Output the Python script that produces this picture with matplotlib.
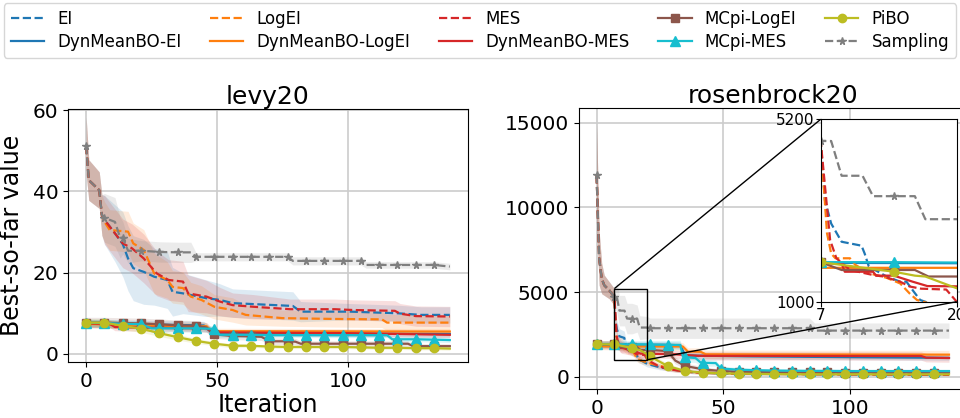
import numpy as np
import matplotlib
matplotlib.use("Agg")
import matplotlib.pyplot as plt
from matplotlib.lines import Line2D
from mpl_toolkits.axes_grid1.inset_locator import mark_inset

plt.rcParams["font.family"] = "DejaVu Sans"

# ---------------------------------------------------------------- labels
method_labels = ["EI", "DynMeanBO-EI", "LogEI", "DynMeanBO-LogEI", "MES",
                 "DynMeanBO-MES", "MCpi-LogEI", "MCpi-MES", "PiBO", "Sampling"]
panel_titles = ["levy20", "rosenbrock20"]

# ---------------------------------------------------------------- levy20
levy_ei_x = [0, 1, 5, 6, 7, 11, 14, 16, 18, 22, 26, 31, 33, 37, 46, 51, 56, 79, 82, 101, 110, 119, 128, 139]
levy_ei_y = [51.2, 42.8, 40.3, 34.2, 33.0, 29.7, 27.0, 23.5, 21.1, 20.2, 19.0, 18.2, 15.3, 14.9, 13.7, 13.3, 12.5, 11.8, 10.4, 10.4, 10.2, 10.0, 9.6, 9.6]
levy_ei_sd = [7, 5, 4.5, 5, 6, 7, 8, 8, 8, 8, 7, 7, 6, 5, 4.5, 4, 3.5, 3.5, 2.5, 2, 2, 2, 2, 2]

levy_dei_x = [0, 20, 45, 48, 100, 139]
levy_dei_y = [7.5, 7.3, 7.0, 5.2, 5.0, 4.9]
levy_dei_sd = [1.0, 1.0, 1.0, 0.8, 0.8, 0.8]

levy_logei_x = [0, 1, 5, 6, 7, 9, 16, 18, 22, 26, 31, 33, 37, 40, 44, 49, 56, 61, 75, 95, 113, 115, 139]
levy_logei_y = [51.2, 42.8, 40.3, 34.2, 32.5, 30.5, 30.1, 27.2, 25.6, 19.8, 18.2, 16.5, 16.2, 14.1, 13.3, 11.6, 10.8, 9.6, 8.8, 8.6, 8.5, 7.7, 7.7]
levy_logei_sd = [7, 5, 4.5, 5, 5, 5, 5, 5, 5, 5, 4.5, 4, 4, 3.5, 3.5, 3, 3, 2.5, 2, 2, 2, 2, 2]

levy_dlogei_x = [0, 10, 30, 46, 48, 139]
levy_dlogei_y = [7.4, 7.2, 6.9, 6.8, 5.6, 5.5]
levy_dlogei_sd = [0.9, 0.9, 0.9, 0.9, 0.7, 0.7]

levy_mes_x = [0, 1, 5, 6, 7, 10, 14, 17.5, 22, 27, 31.5, 37, 39, 46, 51, 56, 64, 78, 95, 102, 118, 120, 126, 139]
levy_mes_y = [51.2, 42.8, 40.3, 34.2, 33.0, 30.5, 27.2, 26.0, 23.5, 19.8, 18.2, 17.8, 14.9, 14.1, 12.9, 12.0, 11.6, 11.0, 11.0, 10.8, 10.6, 9.9, 9.3, 9.2]
levy_mes_sd = [7, 5, 4.5, 5, 6, 6, 6, 6, 6, 5.5, 5, 5, 4.5, 4, 3.5, 3, 3, 2.5, 2.5, 2.5, 2.5, 2.5, 2.5, 2.5]

levy_dmes_x = [0, 9, 11, 30, 46, 48, 100, 139]
levy_dmes_y = [7.5, 7.4, 6.6, 6.4, 6.3, 5.3, 5.1, 4.7]
levy_dmes_sd = [0.9, 0.9, 0.9, 0.9, 0.9, 0.7, 0.7, 0.7]

levy_mlogei_x = [0, 7, 14, 21, 28, 35, 42, 46, 49, 56, 63, 67, 70, 77, 80, 82, 84, 91, 98, 105, 112, 119, 123, 125, 126, 133, 139]
levy_mlogei_y = [7.7, 7.7, 7.6, 7.5, 7.3, 7.0, 6.9, 6.5, 4.8, 4.4, 4.3, 4.2, 3.1, 3.1, 3.0, 2.5, 2.5, 2.5, 2.5, 2.5, 2.5, 2.5, 2.5, 1.9, 1.9, 1.9, 1.9]
levy_mlogei_sd = [1.3, 1.3, 1.3, 1.3, 1.3, 1.3, 1.3, 1.2, 1.0, 0.9, 0.9, 0.9, 0.8, 0.8, 0.8, 0.7, 0.7, 0.7, 0.7, 0.7, 0.7, 0.7, 0.7, 0.6, 0.6, 0.6, 0.6]

levy_mmes_x = [0, 7, 14, 21, 25, 28, 35, 42, 47, 49, 51, 56, 63, 70, 77, 84, 91, 98, 105, 112, 115, 117, 119, 126, 133, 139]
levy_mmes_y = [7.7, 7.6, 7.4, 7.3, 6.3, 6.3, 6.3, 6.3, 6.2, 6.2, 4.7, 4.7, 4.7, 4.6, 4.6, 4.6, 4.6, 4.6, 4.6, 4.6, 4.6, 3.6, 3.6, 3.6, 3.5, 3.4]
levy_mmes_sd = [0.9, 0.9, 0.9, 0.9, 0.9, 0.9, 0.9, 0.9, 0.8, 0.8, 0.7, 0.7, 0.7, 0.6, 0.6, 0.6, 0.6, 0.6, 0.6, 0.6, 0.6, 0.6, 0.6, 0.6, 0.6, 0.6]

levy_pibo_x = [0, 7, 14, 21, 28, 35, 42, 49, 56, 63, 70, 77, 84, 91, 98, 105, 112, 119, 126, 133, 139]
levy_pibo_y = [7.7, 7.7, 6.9, 6.2, 5.1, 4.1, 3.2, 2.5, 2.0, 2.0, 1.8, 1.7, 1.7, 1.7, 1.7, 1.6, 1.5, 1.5, 1.4, 1.4, 1.3]
levy_pibo_sd = [1.0, 1.0, 1.0, 0.9, 0.8, 0.7, 0.6, 0.5, 0.5, 0.4, 0.4, 0.4, 0.4, 0.4, 0.4, 0.4, 0.4, 0.4, 0.4, 0.4, 0.4]

levy_samp_x = [0, 1, 5, 6, 7, 11, 13, 14, 16, 21, 28, 35, 40, 42, 49, 56, 63, 70, 77, 79, 84, 91, 98, 105, 107, 112, 119, 126, 133, 139]
levy_samp_y = [51.2, 42.8, 40.3, 34.2, 33.5, 32.5, 28.6, 28.6, 25.4, 25.4, 25.1, 25.0, 25.0, 23.9, 23.9, 23.9, 23.9, 23.9, 23.9, 22.9, 22.9, 22.9, 22.9, 22.9, 21.9, 21.9, 21.9, 21.9, 21.9, 21.5]
levy_samp_sd = [7, 5, 4.5, 5, 6, 6, 5, 4, 3, 2.5, 2.5, 2.5, 2.5, 1.0, 1.0, 1.0, 1.0, 1.0, 1.0, 1.0, 1.0, 1.0, 1.0, 1.0, 0.8, 0.8, 0.8, 0.8, 0.8, 0.8]

# ---------------------------------------------------------------- rosenbrock20
ros_ei_x = [0, 1, 2, 3, 5, 7, 7.4, 8, 9, 10.9, 11.2, 11.6, 13.3, 14.6, 15.2, 15.9, 16.5, 20, 25, 30, 35, 42, 56, 84, 112, 139]
ros_ei_y = [11900, 7000, 5800, 5400, 5100, 4700, 3340, 2800, 2380, 2290, 2110, 1810, 1580, 1460, 1460, 1230, 1040, 750, 550, 420, 300, 230, 180, 150, 130, 110]
ros_ei_sd = [3000, 1600, 900, 600, 500, 500, 600, 500, 450, 400, 350, 300, 250, 250, 250, 200, 200, 180, 150, 120, 100, 80, 70, 60, 50, 50]

ros_dei_x = [0, 28, 33, 35, 60, 100, 139]
ros_dei_y = [1900, 1880, 1850, 1250, 1200, 1150, 1110]
ros_dei_sd = [200, 200, 200, 200, 180, 150, 150]

ros_logei_x = [0, 1, 2, 3, 5, 7, 7.6, 8, 8.4, 9.8, 10.3, 11.7, 13.3, 14.6, 15.5, 16.2, 17.5, 22, 26, 30, 35, 42, 56, 84, 112, 139]
ros_logei_y = [11900, 7000, 5800, 5400, 5100, 4700, 2580, 2110, 2000, 2000, 1850, 1650, 1550, 1420, 1190, 1040, 950, 750, 600, 420, 300, 230, 180, 150, 130, 110]
ros_logei_sd = [3000, 1600, 900, 600, 500, 500, 500, 400, 350, 350, 300, 300, 250, 250, 200, 200, 180, 150, 130, 120, 100, 80, 70, 60, 50, 50]

ros_dlogei_x = [0, 7, 34, 36, 41, 43, 139]
ros_dlogei_y = [1800, 1780, 1780, 1480, 1470, 1320, 1300]
ros_dlogei_sd = [200, 200, 220, 220, 230, 250, 250]

ros_mes_x = [0, 1, 2, 3, 5, 7, 7.9, 8.5, 9.8, 11.9, 13, 14.6, 15.5, 16.6, 19, 20, 24, 28, 35, 42, 56, 84, 112, 139]
ros_mes_y = [11900, 7000, 5800, 5400, 5100, 4700, 2420, 2000, 1730, 1620, 1580, 1460, 1350, 1300, 1280, 1000, 650, 450, 300, 230, 180, 150, 130, 110]
ros_mes_sd = [3000, 1600, 900, 600, 500, 500, 500, 400, 350, 300, 300, 250, 250, 250, 200, 200, 150, 130, 100, 80, 70, 60, 50, 50]

ros_dmes_x = [0, 9, 9.3, 12, 12.3, 14, 15.8, 17.2, 30, 40, 128, 130, 139]
ros_dmes_y = [1880, 1880, 1690, 1690, 1600, 1600, 1460, 1360, 1330, 1230, 1220, 1120, 1100]
ros_dmes_sd = [250, 250, 250, 250, 250, 250, 250, 250, 250, 250, 250, 250, 250]

ros_mlogei_x = [0, 7, 9, 14, 16, 17.3, 21, 28, 31, 35, 42, 49, 56, 63, 70, 77, 84, 91, 98, 105, 112, 119, 126, 133, 139]
ros_mlogei_y = [1910, 1910, 1730, 1730, 1730, 1580, 1580, 1510, 950, 630, 430, 335, 290, 270, 260, 250, 250, 245, 240, 240, 240, 240, 240, 236, 236]
ros_mlogei_sd = [200, 200, 200, 200, 200, 200, 200, 200, 200, 180, 150, 120, 100, 90, 80, 80, 80, 80, 80, 80, 80, 80, 80, 80, 80]

ros_mmes_x = [0, 7, 14, 21, 28, 33, 34, 35, 39, 41, 42, 47, 49, 56, 63, 70, 77, 84, 91, 98, 105, 112, 119, 126, 133, 139]
ros_mmes_y = [1910, 1910, 1910, 1900, 1880, 1870, 1200, 1150, 1100, 840, 820, 800, 480, 410, 380, 360, 350, 340, 340, 330, 330, 330, 330, 330, 330, 330]
ros_mmes_sd = [200, 200, 200, 220, 250, 280, 280, 280, 260, 220, 200, 180, 150, 120, 100, 100, 100, 100, 100, 100, 100, 100, 100, 100, 100, 100]

ros_pibo_x = [0, 7, 14, 16, 17, 20, 21, 28, 35, 42, 49, 56, 63, 70, 77, 84, 91, 98, 105, 112, 119, 126, 133, 139]
ros_pibo_y = [1910, 1910, 1690, 1600, 1580, 1310, 1200, 630, 330, 240, 200, 180, 160, 150, 145, 140, 140, 140, 140, 135, 135, 135, 135, 135]
ros_pibo_sd = [200, 200, 200, 200, 200, 180, 170, 150, 120, 100, 80, 70, 60, 60, 60, 60, 60, 60, 60, 60, 60, 60, 60, 60]

ros_samp_x = [0, 1, 2, 3, 5, 7, 8, 9, 11, 12, 14, 16, 17, 20, 21, 28, 35, 42, 49, 56, 63, 70, 77, 84, 86, 91, 98, 105, 112, 119, 126, 133, 139]
ros_samp_y = [11900, 7000, 5800, 5400, 5100, 4700, 4700, 3900, 3900, 3430, 3430, 3430, 2900, 2900, 2860, 2860, 2860, 2860, 2860, 2860, 2860, 2860, 2860, 2860, 2720, 2720, 2720, 2720, 2720, 2720, 2720, 2720, 2720]
ros_samp_sd = [3000, 1600, 900, 600, 500, 500, 900, 900, 900, 900, 900, 800, 700, 650, 600, 600, 600, 600, 600, 600, 600, 600, 600, 600, 450, 450, 450, 450, 450, 450, 450, 450, 450]

# ---------------------------------------------------------------- styles
blue, orange, red = "#1f77b4", "#ff7f0e", "#d62728"
brown, cyan, olive, gray = "#8c564b", "#17becf", "#bcbd22", "#7f7f7f"
styles = {
    "EI": dict(color=blue, ls="--", marker=None, ms=0),
    "DynMeanBO-EI": dict(color=blue, ls="-", marker=None, ms=0),
    "LogEI": dict(color=orange, ls="--", marker=None, ms=0),
    "DynMeanBO-LogEI": dict(color=orange, ls="-", marker=None, ms=0),
    "MES": dict(color=red, ls="--", marker=None, ms=0),
    "DynMeanBO-MES": dict(color=red, ls="-", marker=None, ms=0),
    "MCpi-LogEI": dict(color=brown, ls="-", marker="s", ms=6),
    "MCpi-MES": dict(color=cyan, ls="-", marker="^", ms=6.5),
    "PiBO": dict(color=olive, ls="-", marker="o", ms=6),
    "Sampling": dict(color=gray, ls="--", marker="*", ms=5.5),
}

levy_series = [
    (levy_ei_x, levy_ei_y, levy_ei_sd), (levy_dei_x, levy_dei_y, levy_dei_sd),
    (levy_logei_x, levy_logei_y, levy_logei_sd), (levy_dlogei_x, levy_dlogei_y, levy_dlogei_sd),
    (levy_mes_x, levy_mes_y, levy_mes_sd), (levy_dmes_x, levy_dmes_y, levy_dmes_sd),
    (levy_mlogei_x, levy_mlogei_y, levy_mlogei_sd), (levy_mmes_x, levy_mmes_y, levy_mmes_sd),
    (levy_pibo_x, levy_pibo_y, levy_pibo_sd), (levy_samp_x, levy_samp_y, levy_samp_sd),
]
ros_series = [
    (ros_ei_x, ros_ei_y, ros_ei_sd), (ros_dei_x, ros_dei_y, ros_dei_sd),
    (ros_logei_x, ros_logei_y, ros_logei_sd), (ros_dlogei_x, ros_dlogei_y, ros_dlogei_sd),
    (ros_mes_x, ros_mes_y, ros_mes_sd), (ros_dmes_x, ros_dmes_y, ros_dmes_sd),
    (ros_mlogei_x, ros_mlogei_y, ros_mlogei_sd), (ros_mmes_x, ros_mmes_y, ros_mmes_sd),
    (ros_pibo_x, ros_pibo_y, ros_pibo_sd), (ros_samp_x, ros_samp_y, ros_samp_sd),
]

TICK_FS, LABEL_FS, TITLE_FS = 14.5, 17, 18
LW = 1.6


def draw_curves(ax, series, bands=True):
    for name, (x, y, sd) in zip(method_labels, series):
        st = styles[name]
        x = np.asarray(x, float)
        y = np.asarray(y, float)
        sd = np.asarray(sd, float)
        if bands:
            ax.fill_between(x, y - sd, y + sd, color=st["color"], alpha=0.15, lw=0)
        kw = {}
        if st["marker"]:
            kw = dict(marker=st["marker"], ms=st["ms"], markevery=list(np.where(x % 7 == 0)[0]))
        ax.plot(x, y, color=st["color"], ls=st["ls"], lw=LW, **kw)


fig = plt.figure(figsize=(9.6, 4.18), dpi=100)
W, H = 960.0, 418.0
ax1 = fig.add_axes([68 / W, (H - 362) / H, 400 / W, 253 / H])
ax2 = fig.add_axes([579 / W, (H - 389) / H, 387.6 / W, 281 / H])

draw_curves(ax1, levy_series)
draw_curves(ax2, ros_series)

for ax in (ax1, ax2):
    ax.set_xlim(-6.95, 145.95)
    ax.set_xticks([0, 50, 100])
    ax.grid(True, color="#cccccc", lw=1.2)
    ax.set_axisbelow(True)
    ax.tick_params(labelsize=TICK_FS)

ax1.set_ylim(-2.0, 60.3)
ax1.set_yticks([0, 20, 40, 60])
ax1.set_title(panel_titles[0], fontsize=TITLE_FS, pad=3.6)
ax1.set_xlabel("Iteration", fontsize=LABEL_FS, labelpad=2)
ax1.set_ylabel("Best-so-far value", fontsize=LABEL_FS, labelpad=6)

ax2.set_ylim(-730, 15870)
ax2.set_yticks([0, 5000, 10000, 15000])
ax2.set_title(panel_titles[1], fontsize=TITLE_FS, pad=3.6)

# zoomed view of the early rosenbrock iterations
axins = fig.add_axes([820.7 / W, (H - 301.7) / H, 136 / W, 182.4 / H])
draw_curves(axins, ros_series, bands=False)
axins.set_xlim(7, 20)
axins.set_ylim(1000, 5200)
axins.set_xticks([7, 20])
axins.set_yticks([1000, 5200])
axins.tick_params(labelsize=11, pad=1)
for s in axins.spines.values():
    s.set_color("black")
box, c1, c2 = mark_inset(ax2, axins, loc1=2, loc2=4, fc="none", ec="black", lw=1)
for p in (box, c1, c2):
    p.set_zorder(5)

handles = [Line2D([], [], color=styles[n]["color"], ls=styles[n]["ls"], lw=LW,
                  marker=styles[n]["marker"], ms=styles[n]["ms"]) for n in method_labels]
fig.legend(handles, method_labels, loc="upper center", bbox_to_anchor=(0.5, 1.012),
           ncol=5, fontsize=12, columnspacing=1.7, handlelength=2.0, handletextpad=0.8,
           borderpad=0.4, labelspacing=0.3)

fig.savefig("out.png", dpi=100)
